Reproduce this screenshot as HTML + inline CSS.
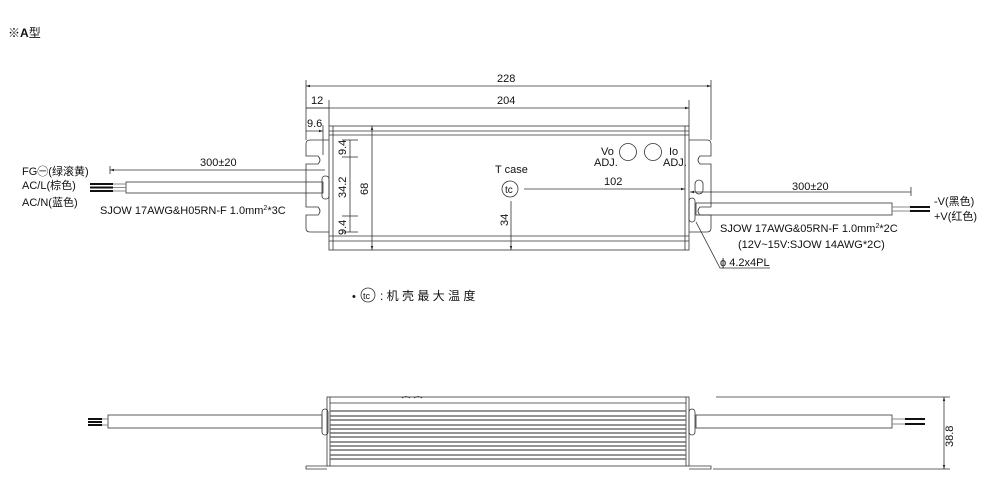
<!DOCTYPE html><html><head><meta charset="utf-8"><style>body{margin:0;background:#fff}svg{display:block}text{font-family:"Liberation Sans","Noto Sans CJK SC",sans-serif;fill:#111}</style></head><body>
<svg width="988" height="493" viewBox="0 0 988 493" xmlns="http://www.w3.org/2000/svg">
<defs><marker id="a" viewBox="0 0 10 10" refX="10" refY="5" markerWidth="7" markerHeight="5" orient="auto-start-reverse"><path d="M0,2L10,5L0,8z" fill="#222"/></marker></defs>
<text x="8" y="37" font-size="12">※<tspan font-weight="bold">A</tspan>型</text>
<g stroke="#333" stroke-width="0.8" fill="none">
<line x1="306" y1="80" x2="306" y2="140"/><line x1="711" y1="80" x2="711" y2="140"/>
<line x1="306" y1="86" x2="711" y2="86" marker-start="url(#a)" marker-end="url(#a)"/>
<line x1="329" y1="100" x2="329" y2="126"/><line x1="689" y1="100" x2="689" y2="126"/>
<line x1="306" y1="108" x2="689" y2="108" marker-end="url(#a)"/>
<line x1="306" y1="108" x2="329" y2="108"/>
<line x1="323" y1="125" x2="323" y2="155"/>
<line x1="306" y1="131" x2="323" y2="131" marker-end="url(#a)"/>
<rect x="329" y="126" width="360" height="124"/>
<line x1="329" y1="131" x2="689" y2="131"/><line x1="329" y1="135" x2="689" y2="135"/>
<line x1="329" y1="236" x2="689" y2="236"/><line x1="329" y1="241" x2="689" y2="241"/>
<line x1="333" y1="126" x2="333" y2="250"/><line x1="685" y1="126" x2="685" y2="250"/>
<path d="M329,140H310Q306,140 306,144V156H318Q322,160 318,164H306V207H318Q322,211 318,215H306V228Q306,232 310,232H329"/>
<path d="M689,140H707Q711,140 711,144V156H700Q696,160 700,164H711V207H700Q696,211 700,215H711V228Q711,232 707,232H689"/>
<rect x="695" y="180" width="8" height="14" rx="4"/>
<line x1="350" y1="140" x2="350" y2="232"/>
<line x1="342" y1="140" x2="358" y2="140"/><line x1="342" y1="157" x2="358" y2="157"/><line x1="342" y1="216" x2="358" y2="216"/><line x1="342" y1="232" x2="358" y2="232"/>
<line x1="372" y1="126" x2="372" y2="250" marker-start="url(#a)" marker-end="url(#a)"/>
<circle cx="510" cy="189" r="8"/>
<line x1="524" y1="189" x2="685" y2="189" marker-end="url(#a)"/>
<line x1="511" y1="201" x2="511" y2="250" marker-end="url(#a)"/>
<circle cx="628" cy="152" r="8.5"/><circle cx="653" cy="152" r="8.5"/>
<line x1="110" y1="166" x2="110" y2="174"/>
<line x1="110" y1="170" x2="325" y2="170" marker-start="url(#a)"/>
<rect x="126" y="182" width="197" height="11"/>
<rect x="322" y="176" width="7" height="23" rx="3"/>
<line x1="911" y1="187" x2="911" y2="196"/>
<line x1="690" y1="192" x2="911" y2="192" marker-start="url(#a)"/>
<rect x="696" y="203" width="196" height="12"/>
<rect x="689" y="198" width="6" height="24" rx="3"/>
<path d="M696,222L720,268H770"/>
<rect x="327" y="397" width="362" height="69"/>
<line x1="330" y1="397" x2="330" y2="466"/><line x1="686" y1="397" x2="686" y2="466"/>
<line x1="330" y1="403" x2="686" y2="403"/>
<path d="M306,466H327M306,466V469H327M689,466H711V469H689"/>
<rect x="108" y="415" width="214" height="13"/>
<rect x="322" y="409" width="6" height="26" rx="3"/>
<rect x="696" y="415" width="196" height="13"/>
<rect x="689" y="409" width="6" height="26" rx="3"/>
<line x1="716" y1="397" x2="950" y2="397"/><line x1="713" y1="469" x2="950" y2="469"/>
<line x1="944" y1="397" x2="944" y2="469" marker-start="url(#a)" marker-end="url(#a)"/>
<path d="M402,398q4,-3 8,0M414,398q4,-3 8,0"/>
</g>
<g stroke="#555" stroke-width="1.2">
<line x1="330" y1="411" x2="686" y2="411"/><line x1="330" y1="416" x2="686" y2="416"/><line x1="330" y1="420" x2="686" y2="420"/><line x1="330" y1="425" x2="686" y2="425"/><line x1="330" y1="429" x2="686" y2="429"/><line x1="330" y1="433" x2="686" y2="433"/><line x1="330" y1="437" x2="686" y2="437"/><line x1="330" y1="442" x2="686" y2="442"/><line x1="330" y1="446" x2="686" y2="446"/><line x1="330" y1="450" x2="686" y2="450"/><line x1="330" y1="455" x2="686" y2="455"/><line x1="330" y1="459" x2="686" y2="459"/>
</g>
<g stroke="#111" stroke-width="2">
<line x1="90" y1="184" x2="113" y2="184"/><line x1="90" y1="187.5" x2="113" y2="187.5"/><line x1="90" y1="191" x2="113" y2="191"/>
<line x1="910" y1="207" x2="930" y2="207"/><line x1="910" y1="211" x2="930" y2="211"/>
<line x1="88" y1="419" x2="102" y2="419"/><line x1="88" y1="422" x2="102" y2="422"/><line x1="88" y1="425" x2="102" y2="425"/>
<line x1="905" y1="419" x2="925" y2="419"/><line x1="905" y1="424" x2="925" y2="424"/>
</g>
<g stroke="#888" stroke-width="1"><line x1="113" y1="184" x2="126" y2="184"/><line x1="113" y1="187.5" x2="126" y2="187.5"/><line x1="113" y1="191" x2="126" y2="191"/><line x1="892" y1="207" x2="910" y2="207"/><line x1="892" y1="211" x2="910" y2="211"/><line x1="102" y1="419" x2="108" y2="419"/><line x1="102" y1="425" x2="108" y2="425"/><line x1="892" y1="419" x2="905" y2="419"/><line x1="892" y1="424" x2="905" y2="424"/></g>
<g font-size="11">
<text x="497" y="82">228</text><text x="497" y="104">204</text>
<text x="311" y="104">12</text><text x="307" y="127">9.6</text>
<text x="200" y="166">300±20</text><text x="792" y="190">300±20</text>
<text x="604" y="185">102</text>
<text x="495" y="173">T case</text>
<text x="505" y="193" font-size="10">tc</text>
<text x="601" y="155">Vo</text><text x="594" y="166">ADJ.</text>
<text x="669" y="155">Io</text><text x="663" y="166">ADJ.</text>
<text transform="translate(346,155) rotate(-90)">9.4</text>
<text transform="translate(346,235) rotate(-90)">9.4</text>
<text transform="translate(346,198) rotate(-90)">34.2</text>
<text transform="translate(368,195) rotate(-90)">68</text>
<text transform="translate(508,226) rotate(-90)">34</text>
<text transform="translate(953,447) rotate(-90)">38.8</text>
<text x="22" y="175">FG㊀(绿滚黄)</text>
<text x="22" y="189">AC/L(棕色)</text>
<text x="22" y="206">AC/N(蓝色)</text>
<text x="100" y="214">SJOW 17AWG&amp;H05RN-F 1.0mm<tspan font-size="7" dy="-4">2</tspan><tspan dy="4">*3C</tspan></text>
<text x="934" y="205">-V(黑色)</text><text x="934" y="220">+V(红色)</text>
<text x="720" y="232">SJOW 17AWG&amp;05RN-F 1.0mm<tspan font-size="7" dy="-4">2</tspan><tspan dy="4">*2C</tspan></text>
<text x="738" y="248">(12V~15V:SJOW 14AWG*2C)</text>
<text x="720" y="266">ϕ 4.2x4PL</text>
<text x="352" y="300">• </text>
<text x="380" y="300" font-size="12">: 机 壳 最 大 温 度</text>
</g>
<circle cx="368" cy="295" r="7" fill="#fff" stroke="#333" stroke-width="0.8"/>
<text x="363" y="299" font-size="9">tc</text>
</svg></body></html>
